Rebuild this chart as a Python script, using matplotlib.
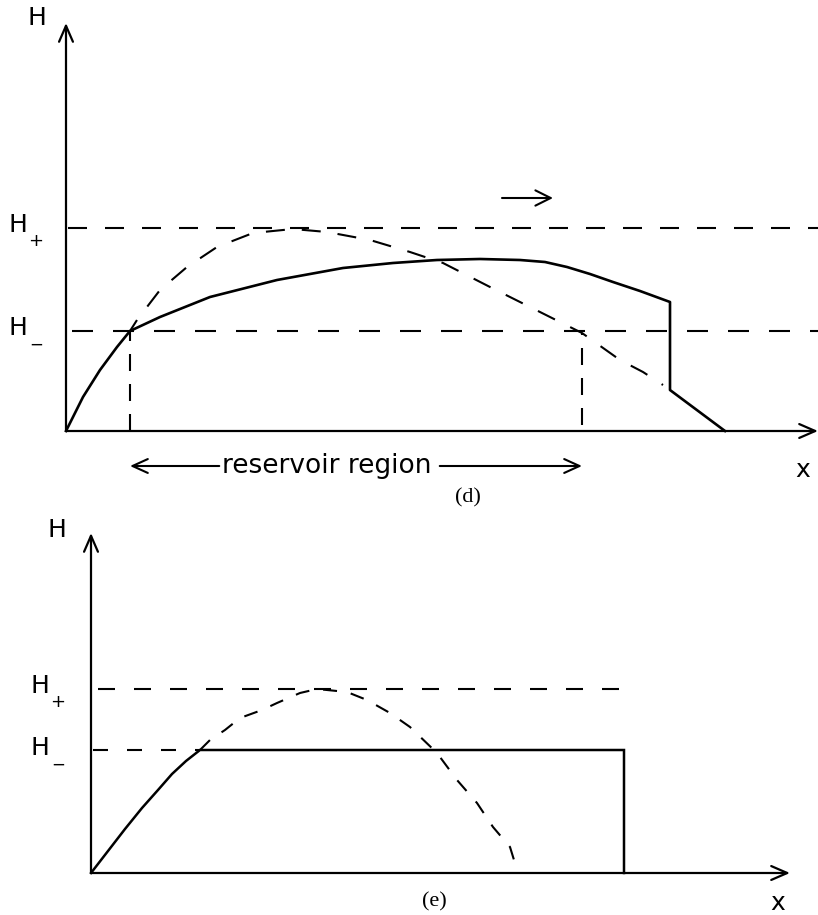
import matplotlib
matplotlib.use('Agg')
import matplotlib.pyplot as plt

# all lengths are in pixels, measured from each panel's origin, H upwards

# ---- panel (d)
d_origin = (66, 431)
d_x_end = 752
d_h_end = 408
d_h_plus = 203
d_h_minus = 100

d_solid_x = [0, 17, 34, 51, 64, 94, 144, 211, 277, 327, 371, 414, 454, 479, 501, 524, 547, 574, 604, 604, 659]
d_solid_h = [0, 34, 61, 84, 100, 114, 134, 151, 163, 168, 171, 172, 171, 169, 164, 157, 149, 140, 129, 41, 0]

d_dash_x = [64, 71, 94, 121, 151, 187, 227, 261, 304, 344, 377, 424, 474, 516, 554, 577, 597]
d_dash_h = [100, 111, 141, 164, 184, 198, 202, 199, 191, 179, 168, 144, 119, 98, 71, 59, 46]

d_res_left = 64
d_res_right = 516
d_res_bottom = 6

# ---- panel (e)
e_origin = (91, 873)
e_x_end = 699
e_h_end = 340
e_h_plus = 184
e_h_minus = 123
e_plus_end = 539

e_solid_x = [0, 17, 34, 51, 67, 81, 95, 109, 533, 533]
e_solid_h = [0, 22, 44, 65, 83, 99, 112, 123, 123, 0]

e_dash_x = [109, 119, 134, 149, 171, 186, 209, 226, 256, 276, 299, 319, 346, 366, 386, 402, 419, 427]
e_dash_h = [123, 133, 143, 155, 163, 170, 180, 184, 181, 173, 160, 146, 120, 93, 70, 46, 26, 0]

W, H = 818, 915
PX = 0.72  # points per pixel at dpi 100

plt.rcParams['lines.scale_dashes'] = False
plt.rcParams['font.family'] = ['DejaVu Sans']

fig = plt.figure(figsize=(W / 100, H / 100), dpi=100)


def panel(origin):
    ox, oy = origin
    ax = fig.add_axes([0, 0, 1, 1])
    ax.set_xlim(-ox, W - ox)
    ax.set_ylim(oy - H, oy)
    ax.axis('off')
    return ax


def arrow(ax, start, tip, hl=1.15, hw=0.5, lw=1.6):
    ax.annotate('', xy=tip, xytext=start,
                arrowprops=dict(arrowstyle='->,head_length=%g,head_width=%g' % (hl, hw),
                                lw=lw, color='k', shrinkA=0, shrinkB=0))


def dash(ax, x, h, on, off, lw=1.5, offset=0):
    ax.plot(x, h, color='k', lw=lw, linestyle=(offset * PX, (on * PX, off * PX)),
            dash_capstyle='butt')


def h_labels(ax, xh, xs, hp, hm):
    ax.text(xh, hp, 'H', fontsize=18, ha='center', va='center')
    ax.text(xs, hp - 16, '+', fontsize=13, ha='center', va='center')
    ax.text(xh, hm, 'H', fontsize=18, ha='center', va='center')
    ax.text(xs, hm - 17, '\u2212', fontsize=12, ha='center', va='center')


# ---------------- (d)
ax_d = panel(d_origin)
arrow(ax_d, (0, 0), (0, d_h_end))
arrow(ax_d, (0, 0), (d_x_end, 0))
dash(ax_d, [2, d_x_end], [d_h_plus, d_h_plus], 19, 18)
dash(ax_d, [6, d_x_end], [d_h_minus, d_h_minus], 21, 20)
dash(ax_d, d_dash_x, d_dash_h, 19, 17, offset=6)
dash(ax_d, [d_res_left, d_res_left], [0, d_h_minus], 17, 13)
dash(ax_d, [d_res_right, d_res_right], [d_res_bottom, d_dash_h[13]], 17, 13)
ax_d.plot(d_solid_x, d_solid_h, color='k', lw=1.9, solid_joinstyle='round')
arrow(ax_d, (436, 233), (487, 233), hl=1.1, hw=0.55, lw=1.5)

ax_d.text(-29, 413, 'H', fontsize=18, ha='center', va='center')
h_labels(ax_d, -48, -30, d_h_plus + 3, d_h_minus + 3)
ax_d.text(737, -39, 'x', fontsize=18, ha='center', va='center')

res = ax_d.text(261, -42, 'reservoir region', fontsize=19, ha='center', va='baseline')
ax_d.text(402, -67, '(d)', fontsize=16, family='Liberation Serif', ha='center', va='center')

# ---------------- (e)
ax_e = panel(e_origin)
arrow(ax_e, (0, 0), (0, e_h_end))
arrow(ax_e, (0, 0), (e_x_end, 0))
dash(ax_e, [7, e_plus_end], [e_h_plus, e_h_plus], 17, 19)
dash(ax_e, [2, e_solid_x[7]], [e_h_minus, e_h_minus], 15, 19)
dash(ax_e, e_dash_x, e_dash_h, 14, 14)
ax_e.plot(e_solid_x, e_solid_h, color='k', lw=1.8, solid_joinstyle='miter')

ax_e.text(-34, 343, 'H', fontsize=18, ha='center', va='center')
h_labels(ax_e, -51, -33, e_h_plus + 3, e_h_minus + 2)
ax_e.text(687, -30, 'x', fontsize=18, ha='center', va='center')
ax_e.text(343, -29, '(e)', fontsize=16, family='Liberation Serif', ha='center', va='center')

# arrows either side of the "reservoir region" text
fig.canvas.draw()
bb = res.get_window_extent().transformed(ax_d.transData.inverted())
arrow(ax_d, (bb.x0 - 3, -35), (d_res_left, -35), hl=1.1, hw=0.5, lw=1.5)
arrow(ax_d, (bb.x1 + 8, -35), (d_res_right, -35), hl=1.1, hw=0.5, lw=1.5)

fig.savefig('out.png', dpi=100)
